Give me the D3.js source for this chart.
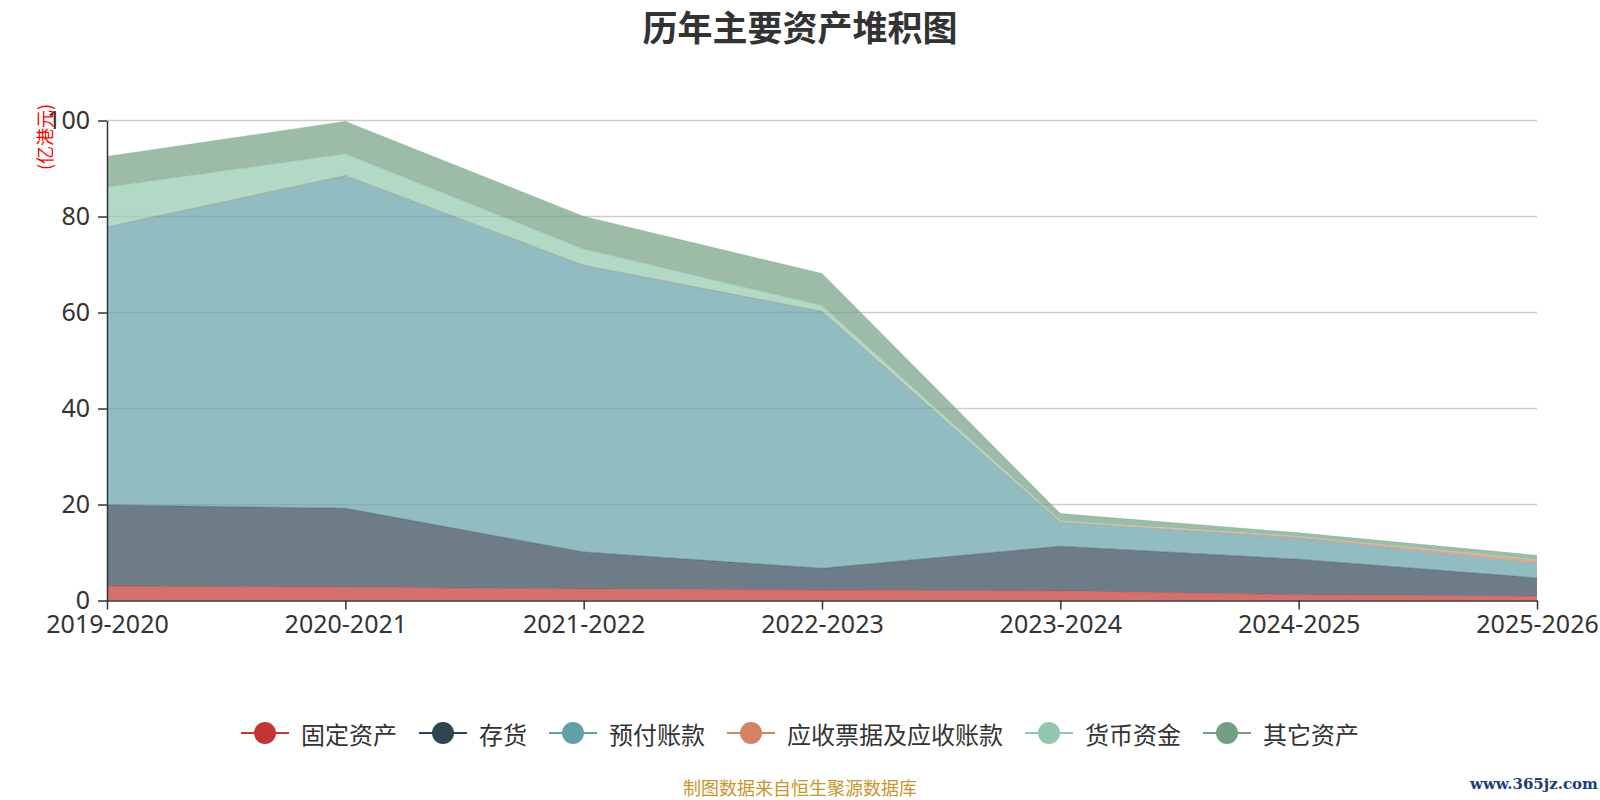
<!DOCTYPE html>
<html>
<head>
<meta charset="utf-8">
<script src="https://cdn.jsdelivr.net/npm/d3@7/dist/d3.min.js"></script>
<style>
  body { margin: 0; background: #fff; }
  svg { display: block; font-family: "Noto Sans", "Noto Sans CJK SC", sans-serif; }
</style>
</head>
<body>
<svg id="chart" width="1600" height="800"></svg>
<script>
// data (亿港元)
const years = ["2019-2020", "2020-2021", "2021-2022", "2022-2023", "2023-2024", "2024-2025", "2025-2026"];
const seriesNames = ["固定资产", "存货", "预付账款", "应收票据及应收账款", "货币资金", "其它资产"];
const fixedAssets = [3.0, 2.8, 2.4, 2.2, 2.0, 1.2, 0.9];
const inventory = [16.9, 16.4, 7.7, 4.5, 9.3, 7.4, 3.8];
const prepaid = [57.9, 69.3, 59.7, 53.5, 4.9, 4.3, 3.0];
const receivable = [0, 0, 0, 0, 0.1, 0.3, 0.6];
const cash = [8.3, 4.5, 3.4, 1.2, 0.3, 0.2, 0.2];
const otherAssets = [6.4, 6.8, 6.8, 6.7, 1.5, 0.7, 0.9];
const yTicks = [0, 20, 40, 60, 80, 100];

const colors = ["#c23531", "#2f4554", "#61a0a8", "#d48265", "#91c7ae", "#749f83"];

const svg = d3.select("#chart");
const margin = { left: 107, right: 63, top: 120.5, bottom: 199.5 };
const W = 1600, H = 800;

const x = d3.scalePoint().domain(years).range([margin.left, W - margin.right]);
const y = d3.scaleLinear().domain([0, 100]).range([H - margin.bottom, margin.top]);

// table for stacking
const allSeries = [fixedAssets, inventory, prepaid, receivable, cash, otherAssets];
const table = years.map((yr, i) => {
  const row = { year: yr };
  seriesNames.forEach((n, k) => row[n] = allSeries[k][i]);
  return row;
});
const stacked = d3.stack().keys(seriesNames)(table);

// title
svg.append("text")
  .attr("x", 800).attr("y", 25)
  .attr("text-anchor", "middle").attr("dominant-baseline", "central")
  .style("font-family", "'Noto Sans CJK SC', sans-serif")
  .style("font-size", "35px").style("font-weight", "bold").style("fill", "#333")
  .text("历年主要资产堆积图");

// grid lines
svg.append("g")
  .selectAll("line")
  .data(yTicks.slice(1))
  .enter().append("line")
  .attr("x1", margin.left).attr("x2", W - margin.right)
  .attr("y1", d => y(d)).attr("y2", d => y(d))
  .style("stroke", "#ccc").style("stroke-width", 1.5);

// stacked areas
const area = d3.area()
  .x((d, i) => x(years[i]))
  .y0(d => y(d[0]))
  .y1(d => y(d[1]));

const line = d3.line()
  .x((d, i) => x(years[i]))
  .y(d => y(d[1]));

svg.append("g")
  .selectAll("path")
  .data(stacked)
  .enter().append("path")
  .attr("d", area)
  .style("fill", (d, i) => colors[i])
  .style("fill-opacity", 0.7);

svg.append("g")
  .selectAll("path")
  .data(stacked)
  .enter().append("path")
  .attr("d", line)
  .style("fill", "none")
  .style("stroke", (d, i) => colors[i])
  .style("stroke-opacity", 0.35)
  .style("stroke-width", 1);

// y axis
const yAxis = svg.append("g")
  .attr("transform", `translate(${margin.left},0)`)
  .call(d3.axisLeft(y).tickValues(yTicks).tickSize(9).tickPadding(8).tickSizeOuter(0));
yAxis.select(".domain").style("stroke", "#333").style("stroke-width", 1.5);
yAxis.selectAll(".tick line").style("stroke", "#333").style("stroke-width", 1.5);
yAxis.selectAll(".tick text")
  .style("font-size", "25px").style("fill", "#333")
  .style("font-family", "'Noto Sans', sans-serif");

// x axis
const xAxis = svg.append("g")
  .attr("transform", `translate(0,${y(0)})`)
  .call(d3.axisBottom(x).tickSize(9).tickPadding(6).tickSizeOuter(0));
xAxis.select(".domain").style("stroke", "#333").style("stroke-width", 1.5);
xAxis.selectAll(".tick line").style("stroke", "#333").style("stroke-width", 1.5);
xAxis.selectAll(".tick text")
  .style("font-size", "25px").style("fill", "#333")
  .style("font-family", "'Noto Sans', sans-serif");

// y axis unit name
svg.append("text")
  .attr("transform", "translate(44,137) rotate(-90)")
  .attr("text-anchor", "middle").attr("dominant-baseline", "central")
  .style("font-size", "18px").style("fill", "red")
  .style("font-family", "'Noto Sans CJK SC', sans-serif")
  .text("(亿港元)");

// legend
const legend = svg.append("g");
const iconW = 48, iconGap = 12, itemGap = 22, legendY = 733;
const items = legend.selectAll("g")
  .data(seriesNames)
  .enter().append("g");
items.append("text")
  .attr("dominant-baseline", "central")
  .attr("y", legendY)
  .style("font-size", "24px").style("fill", "#333")
  .style("font-family", "'Noto Sans CJK SC', sans-serif")
  .text(d => d);
const widths = [];
items.select("text").each(function() { widths.push(this.getComputedTextLength()); });
const total = d3.sum(widths) + seriesNames.length * (iconW + iconGap) + (seriesNames.length - 1) * itemGap;
let cx = 800 - total / 2;
items.each(function(d, i) {
  const g = d3.select(this);
  g.append("line")
    .attr("x1", cx).attr("x2", cx + iconW)
    .attr("y1", legendY).attr("y2", legendY)
    .style("stroke", colors[i]).style("stroke-width", 2);
  g.append("circle")
    .attr("cx", cx + iconW / 2).attr("cy", legendY).attr("r", 11)
    .style("fill", colors[i]);
  g.select("text").attr("x", cx + iconW + iconGap);
  cx += iconW + iconGap + widths[i] + itemGap;
});

// source note
svg.append("text")
  .attr("x", 800).attr("y", 787)
  .attr("text-anchor", "middle").attr("dominant-baseline", "central")
  .style("font-size", "18px").style("fill", "#c8962a")
  .style("font-family", "'Noto Sans CJK SC', sans-serif")
  .text("制图数据来自恒生聚源数据库");

// watermark
svg.append("text")
  .attr("x", 1598).attr("y", 784)
  .attr("text-anchor", "end").attr("dominant-baseline", "central")
  .style("font-size", "15px").style("fill", "#1e3d78").style("font-weight", "bold")
  .style("font-family", "'DejaVu Serif', serif")
  .text("www.365jz.com");
</script>
</body>
</html>
